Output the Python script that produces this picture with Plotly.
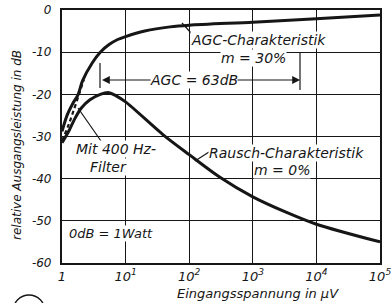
import plotly.graph_objects as go

# ---------------- data ----------------
agc_x = [1, 1.2, 1.5, 1.8, 2.1, 3, 4, 5.5, 7.5, 10, 20, 50, 100, 1000, 1e4, 1e5]
agc_y = [-28.8, -25, -22, -20, -16.8, -12.5, -10, -8.2, -7, -6.3, -5, -4, -3.6, -2.9, -2.1, -1.2]

noise_x = [1, 1.3, 1.6, 2, 2.75, 4, 5.5, 7, 10, 39, 100, 300, 1000, 3400, 1e4, 1e5]
noise_y = [-31.5, -28.5, -25.7, -23.3, -21.3, -20, -19.6, -20.3, -21.8, -29.6, -34.3, -39.6, -44.3, -48, -50.8, -55]

filter_x = [1, 1.25, 1.55, 1.9, 2.2]
filter_y = [-31, -27.5, -23.5, -19.5, -16.5]

x_tickvals = [1, 10, 100, 1000, 10000, 100000]
x_ticktext = ["1", "10<sup>1</sup>", "10<sup>2</sup>", "10<sup>3</sup>", "10<sup>4</sup>", "10<sup>5</sup>"]
y_tickvals = [0, -10, -20, -30, -40, -50, -60]
y_ticktext = ["0", "-10", "-20", "-30", "-40", "-50", "-60"]

# ---------------- layout helpers ----------------
W, H = 392, 303
L, R, T, B = 62, 380, 10, 263
FONT = "DejaVu Sans"
INK = "#161616"


def px(xp):
    return (xp - L) / (R - L)


def py(yp):
    return (B - yp) / (B - T)


fig = go.Figure()
fig.add_trace(go.Scatter(x=agc_x, y=agc_y, mode="lines",
                         line=dict(color=INK, width=3, shape="spline", smoothing=0.8),
                         hoverinfo="skip"))
fig.add_trace(go.Scatter(x=noise_x, y=noise_y, mode="lines",
                         line=dict(color=INK, width=3, shape="spline", smoothing=0.8),
                         hoverinfo="skip"))
fig.add_trace(go.Scatter(x=filter_x, y=filter_y, mode="lines",
                         line=dict(color=INK, width=2.2, dash="4px,3px", shape="spline"),
                         hoverinfo="skip"))

ann_font = dict(family=FONT, size=14, color=INK, style="italic")
annotations = []


def text(xp, yp, s, xanchor="center", size=None):
    f = dict(ann_font)
    if size:
        f["size"] = size
    annotations.append(dict(x=px(xp), y=py(yp), xref="paper", yref="paper", text=s,
                            showarrow=False, xanchor=xanchor, yanchor="middle",
                            font=f, bgcolor="white", borderpad=0))


text(190, 40, "AGC-Charakteristik", xanchor="left")
text(253, 58, "m = 30%")
text(194, 80, "AGC = 63dB")
text(116, 149, "Mit 400 Hz-")
text(108, 167, "Filter")
text(208, 153, "Rausch-Charakteristik", xanchor="left")
text(282, 170, "m = 0%")
text(68, 233, "0dB = 1Watt", xanchor="left", size=13)

# arrows of the AGC range
for head, dx in [(102, 50), (300, -64)]:
    annotations.append(dict(x=px(head), y=py(80), xref="paper", yref="paper",
                            ax=dx, ay=0, axref="pixel", ayref="pixel", text="",
                            showarrow=True, arrowhead=2, arrowsize=1.3, arrowwidth=1.2,
                            arrowcolor=INK))

# axis titles
annotations.append(dict(x=px(258), y=py(293), xref="paper", yref="paper",
                        xanchor="center", yanchor="middle",
                        text="Eingangsspannung in µV", showarrow=False,
                        font=dict(family=FONT, size=13, color=INK, style="italic")))
annotations.append(dict(x=px(17), y=py(145), xref="paper", yref="paper",
                        xanchor="center", yanchor="middle",
                        text="relative Ausgangsleistung in dB", showarrow=False, textangle=-90,
                        font=dict(family=FONT, size=12, color=INK, style="italic")))

shapes = []


def seg(x0, y0, x1, y1, w=1.2):
    shapes.append(dict(type="line", xref="paper", yref="paper",
                       x0=px(x0), y0=py(y0), x1=px(x1), y1=py(y1),
                       line=dict(color=INK, width=w)))


seg(100, 63, 100, 88)      # left end mark of AGC range
seg(300, 52, 300, 90)      # right end mark
seg(182, 23, 192, 34)      # leader AGC label
seg(78, 108, 101, 141)     # leader filter label
seg(195, 161, 209, 152)    # leader Rausch label
shapes.append(dict(type="circle", xref="paper", yref="paper",
                   x0=px(13), x1=px(45), y0=py(295), y1=py(328),
                   line=dict(color=INK, width=1.4)))

fig.update_layout(
    width=W, height=H,
    margin=dict(l=L, r=W - R, t=T, b=H - B, autoexpand=False),
    paper_bgcolor="white", plot_bgcolor="white",
    showlegend=False,
    annotations=annotations,
    shapes=shapes,
    xaxis=dict(type="log", range=[0, 5], tickvals=x_tickvals, ticktext=x_ticktext,
               showgrid=True, gridcolor=INK, gridwidth=1,
               showline=True, linecolor=INK, linewidth=2.2, mirror=True,
               ticks="",
               tickfont=dict(family=FONT, size=13, color=INK, style="italic"),
               zeroline=False, automargin=False),
    yaxis=dict(range=[-60, 0], tickvals=y_tickvals, ticktext=y_ticktext,
               showgrid=True, gridcolor=INK, gridwidth=1,
               showline=True, linecolor=INK, linewidth=2.2, mirror=True,
               ticks="outside", ticklen=6, tickcolor="rgba(0,0,0,0)",
               tickfont=dict(family=FONT, size=12, color=INK, style="italic"),
               zeroline=False, automargin=False),
)

fig.write_html("out.html", post_script="document.body.style.margin='0px';",
               config={"displayModeBar": False})
